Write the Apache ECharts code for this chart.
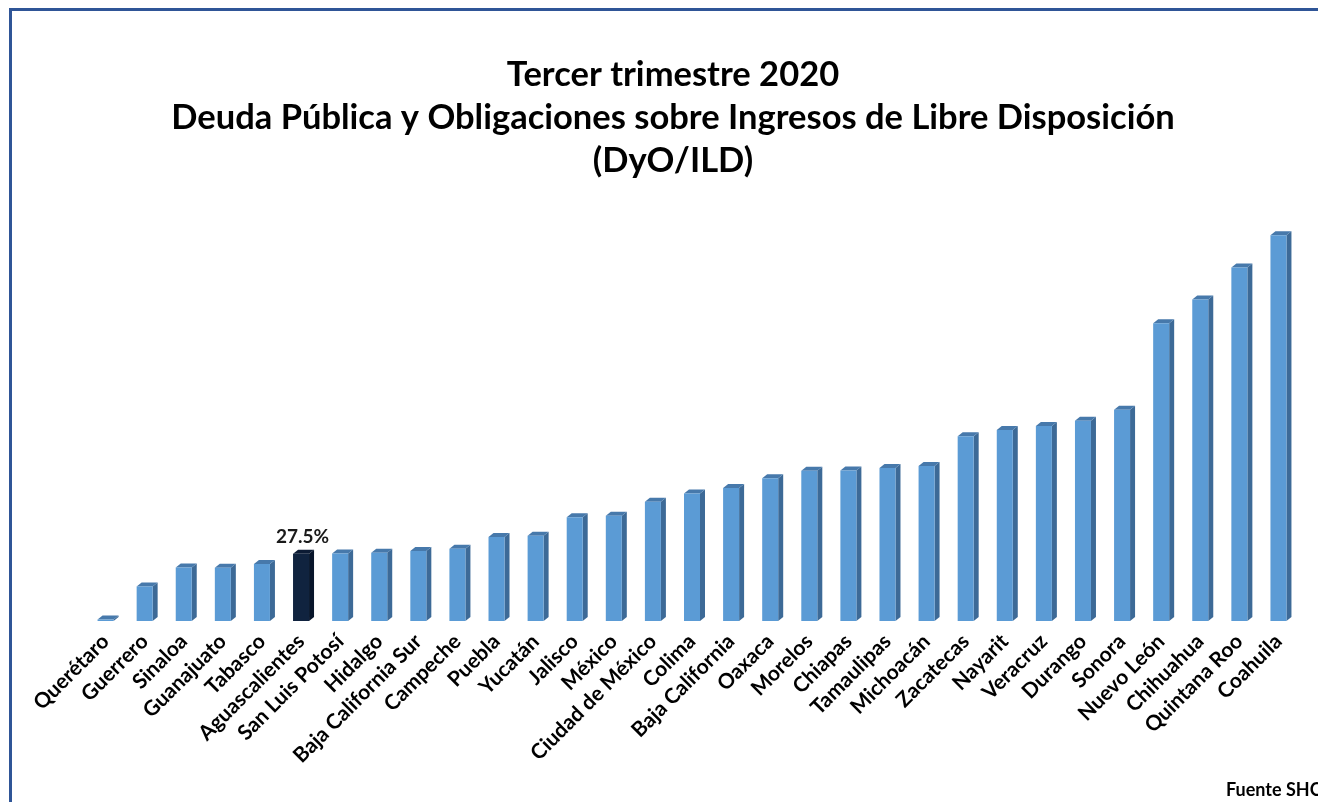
<html>
<head>
<meta charset="utf-8">
<script src="https://cdn.jsdelivr.net/npm/echarts@6/dist/echarts.min.js"></script>
<style>
  html, body { margin: 0; padding: 0; background: #fff; }
  #main { width: 1318px; height: 802px; }
</style>
</head>
<body>
<div id="main"></div>
<script>
var states = ['Querétaro', 'Guerrero', 'Sinaloa', 'Guanajuato', 'Tabasco', 'Aguascalientes',
  'San Luis Potosí', 'Hidalgo', 'Baja California Sur', 'Campeche', 'Puebla', 'Yucatán',
  'Jalisco', 'México', 'Ciudad de México', 'Colima', 'Baja California', 'Oaxaca', 'Morelos',
  'Chiapas', 'Tamaulipas', 'Michoacán', 'Zacatecas', 'Nayarit', 'Veracruz', 'Durango',
  'Sonora', 'Nuevo León', 'Chihuahua', 'Quintana Roo', 'Coahuila'];
// DyO / ILD, percent
var ratios = [0.6, 14.1, 21.8, 21.7, 23.3, 27.5,
  27.6, 27.9, 28.6, 29.5, 34.3, 34.8,
  42.3, 43.0, 48.7, 52.0, 54.3, 58.3, 61.3,
  61.4, 62.4, 63.3, 75.4, 78.0, 79.6, 81.7,
  86.2, 121.5, 131.2, 144.3, 157.4];
var highlight = 'Aguascalientes';

var blue = { front: '#5b9bd5', side: '#3d6a97', top: '#4779ab' };
var navy = { front: '#10233f', side: '#08152a', top: '#0c1b34' };

var chart = echarts.init(document.getElementById('main'));

function renderBar(params, api) {
  var i = api.value(0);
  var v = api.value(1);
  var top = api.coord([i, v]);
  var base = api.coord([i, 0]);
  var w = 16, dx = 5, dy = 4;
  var x0 = top[0] - w / 2, x1 = x0 + w;
  var y0 = top[1], y1 = base[1];
  var hot = states[i] === highlight;
  var c = hot ? navy : blue;
  var kids = [
    { type: 'polygon', shape: { points: [[x1, y1], [x1 + dx, y1 - dy], [x1 + dx, y0 - dy], [x1, y0]] }, style: { fill: c.side } },
    { type: 'polygon', shape: { points: [[x0, y0], [x0 + dx, y0 - dy], [x1 + dx, y0 - dy], [x1, y0]] }, style: { fill: c.top } },
    { type: 'rect', shape: { x: x0, y: y0, width: w, height: y1 - y0 }, style: { fill: c.front } }
  ];
  if (hot) {
    kids.push({
      type: 'text', x: x0 + (w + dx) / 2 - 1, y: y0 - dy - 3,
      style: { text: v.toFixed(1) + '%', fontFamily: 'Lato', fontWeight: 'bold', fontSize: 19,
        fill: '#1a1a1a', align: 'center', verticalAlign: 'bottom' }
    });
  }
  return { type: 'group', children: kids };
}

chart.setOption({
  animation: false,
  backgroundColor: '#fff',
  title: {
    text: 'Tercer trimestre 2020\nDeuda Pública y Obligaciones sobre Ingresos de Libre Disposición\n(DyO/ILD)',
    left: 668,
    textAlign: 'center',
    top: 48,
    textStyle: { fontFamily: 'Lato', fontWeight: 'bold', fontSize: 34.5, lineHeight: 43, color: '#000' }
  },
  graphic: [
    { type: 'rect', shape: { x: 10.5, y: 9.5, width: 1400, height: 900 },
      style: { fill: 'none', stroke: '#2f5597', lineWidth: 3 } },
    { type: 'text', left: 1226, top: 781,
      style: { text: 'Fuente SHCP', fontFamily: 'Lato', fontWeight: 'bold', fontSize: 18, fill: '#000' } }
  ],
  grid: { left: 86, right: 20, top: 229, bottom: 181 },
  xAxis: {
    type: 'category',
    data: states,
    axisLine: { show: false },
    axisTick: { show: false },
    axisLabel: { rotate: 45, interval: 0, margin: 17, fontFamily: 'Lato', fontWeight: 'bold', fontSize: 21, color: '#000' }
  },
  yAxis: { type: 'value', min: 0, max: 160, show: false, splitLine: { show: false } },
  series: [{
    type: 'custom',
    renderItem: renderBar,
    encode: { x: 0, y: 1 },
    data: ratios.map(function (v, i) { return [i, v]; })
  }]
});
</script>
</body>
</html>
